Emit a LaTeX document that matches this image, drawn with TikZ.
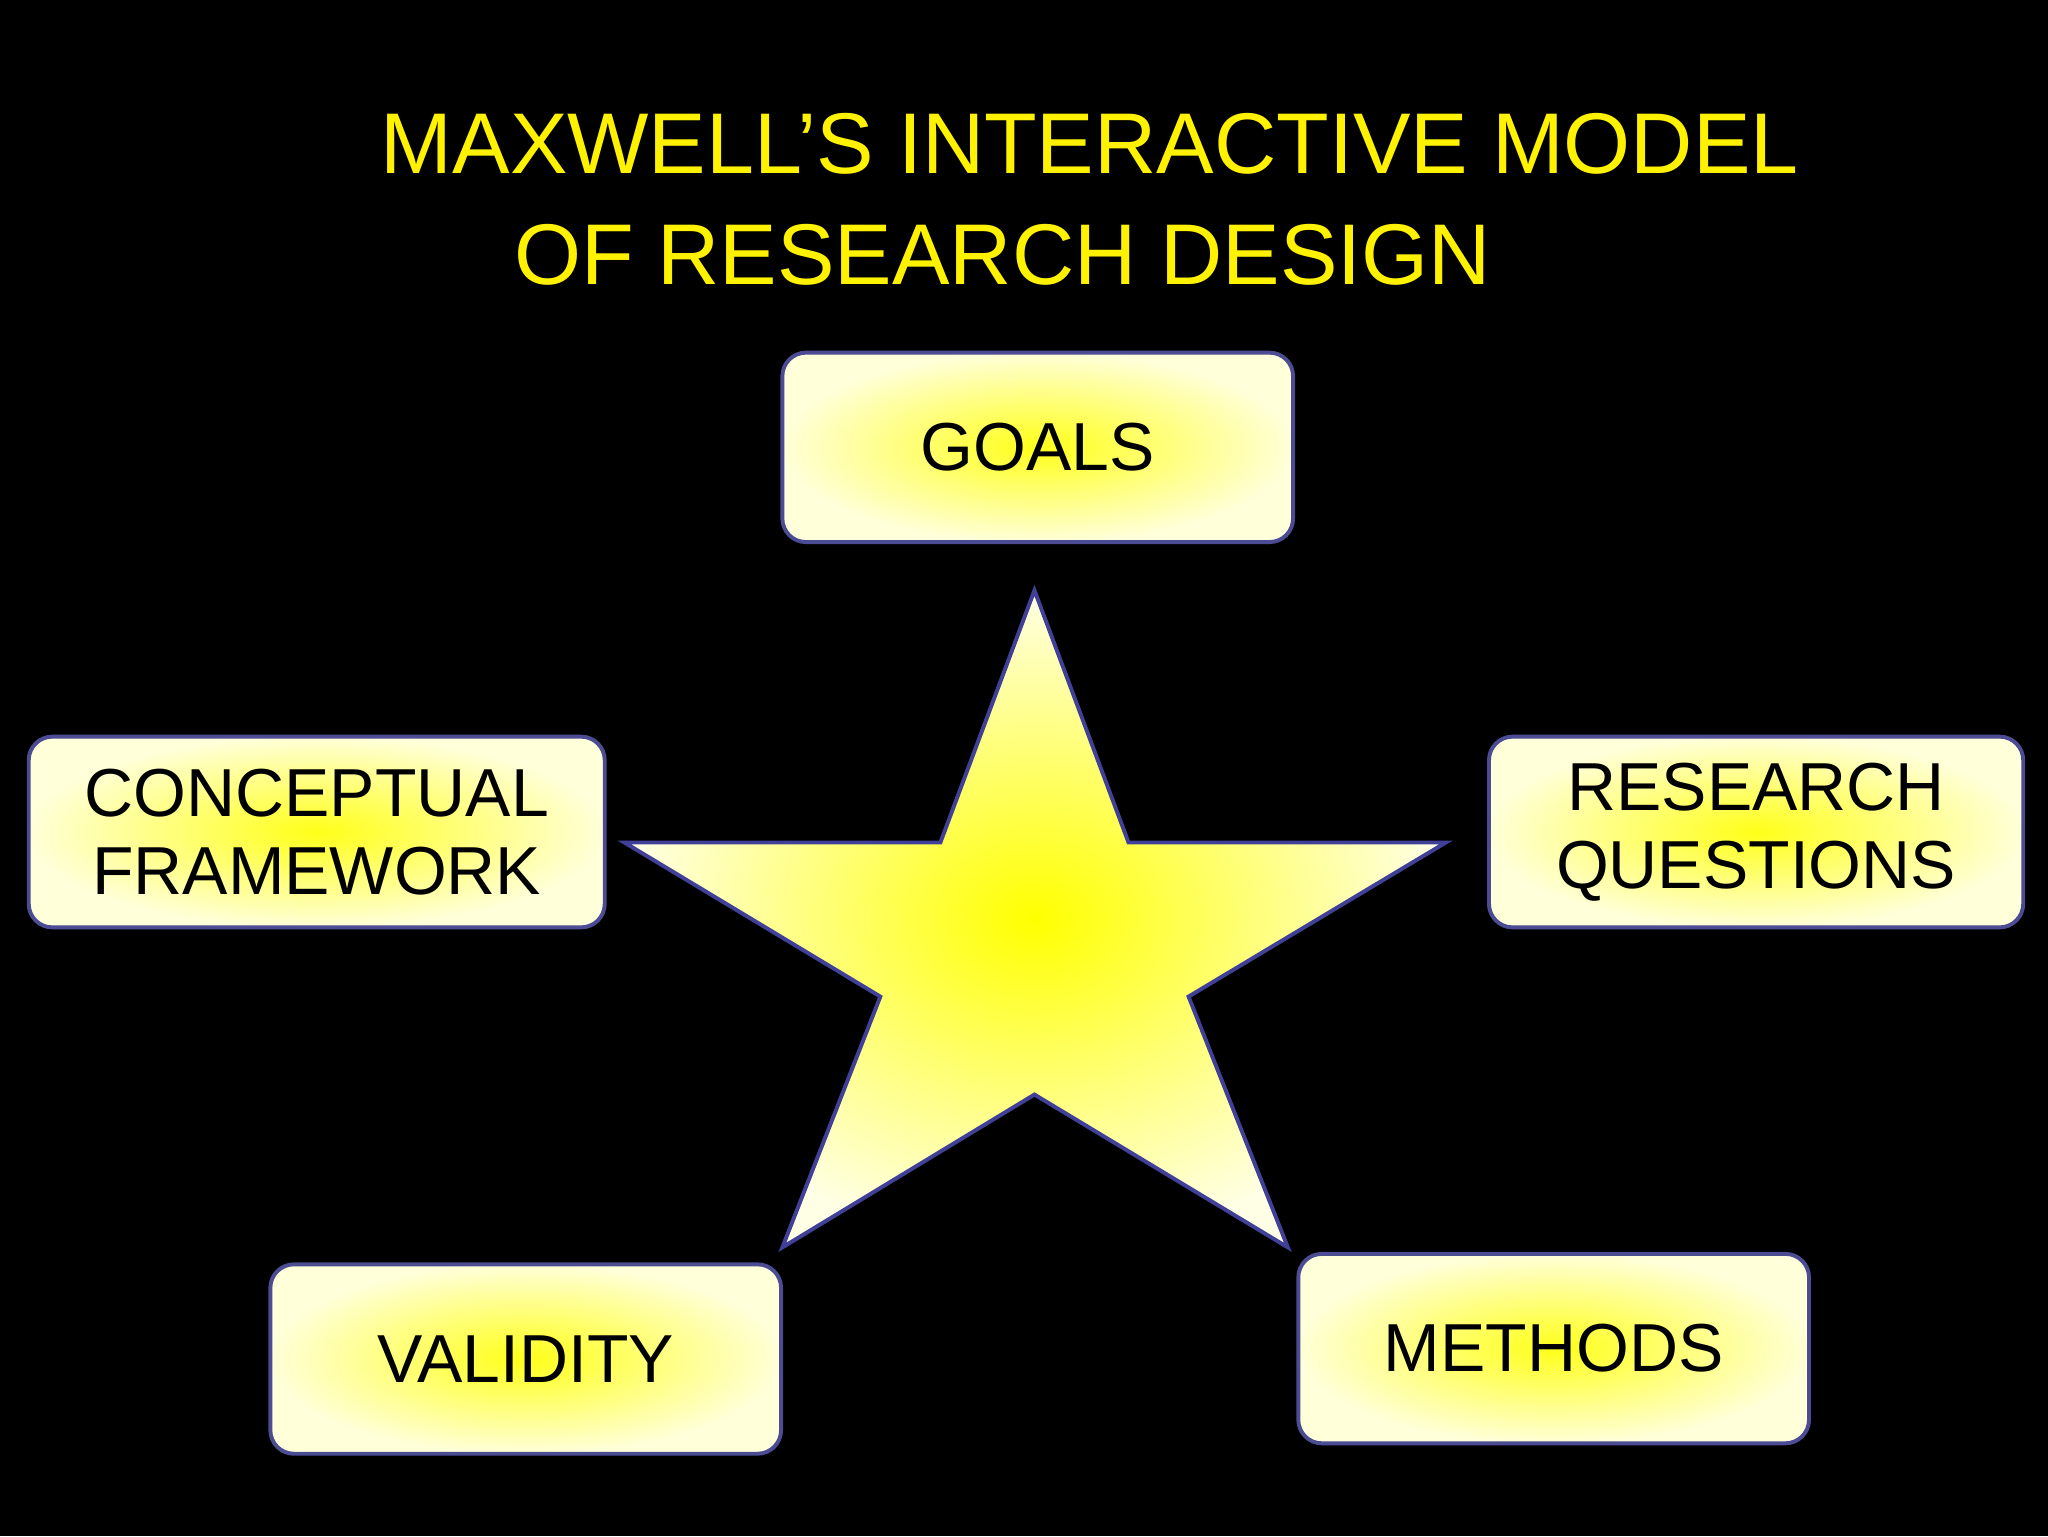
\documentclass[tikz,border=0pt]{standalone}
\usepackage{fontspec}
\setmainfont{Liberation Sans}
\tikzset{
 boxst/.style={draw=black!30!blue!40!gray, line width=3pt, rounded corners=18pt, inner color=yellow!90!white, outer color=yellow!15!white, align=center, font=\fontsize{52}{60}\selectfont, text=black, inner sep=0pt},
}
\begin{document}
\begin{tikzpicture}[x=1pt,y=-1pt]
\fill[black] (0,0) rectangle (1568,1176);
\useasboundingbox (0,0) rectangle (1568,1176);
\node[text=yellow, font=\fontsize{66}{84}\selectfont, anchor=west] (t1) at (288,110) {MAXWELL’S INTERACTIVE MODEL};
\node[text=yellow, font=\fontsize{66}{84}\selectfont, anchor=west] (t2) at (390,195) {OF RESEARCH DESIGN};
\node[boxst, minimum width=391pt, minimum height=145pt] (goals) at (794.5,342.5) {GOALS};
\node[boxst, minimum width=441pt, minimum height=146pt] (conc) at (242.5,637) {CONCEPTUAL\\FRAMEWORK};
\node[boxst, minimum width=409pt, minimum height=146pt] (rq) at (1344.5,637) {RESEARCH\\QUESTIONS};
\node[boxst, minimum width=391pt, minimum height=145pt] (val) at (402.5,1040.5) {VALIDITY};
\node[boxst, minimum width=391pt, minimum height=145pt] (meth) at (1189.5,1032.5) {METHODS};
\draw[draw=black!30!blue!50!gray, line width=3pt, line join=miter, inner color=yellow, outer color=yellow!10!white]
 (792,452) -- (864,645) -- (1107,645) -- (910,763) -- (986,955) -- (792,838) -- (599,955) -- (674,763) -- (478,645) -- (720,645) -- cycle;
\end{tikzpicture}
\end{document}
